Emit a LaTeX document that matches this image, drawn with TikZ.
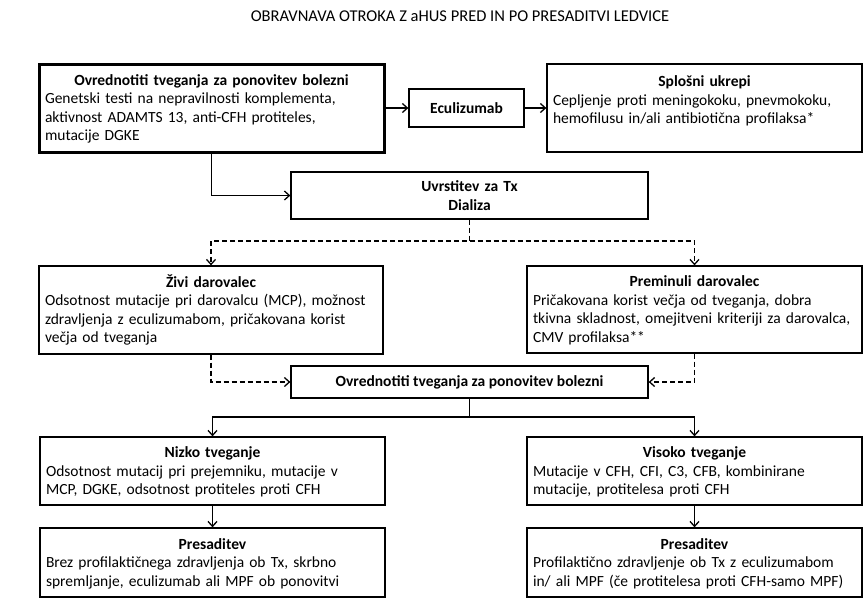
\documentclass[tikz,border=0pt]{standalone}
\usepackage{fontspec}
\setmainfont{Carlito}
\usepackage{tikz}
\usetikzlibrary{arrows.meta}

\begin{document}
\begin{tikzpicture}
[x=1pt,y=-1pt,>={Straight Barb[length=5pt,width=9pt]},
mybox/.style={rectangle,draw=black,line width=1.3pt,inner xsep=6pt,inner ysep=2pt,font=\fontsize{15.5}{18.5}\selectfont},
bigbox/.style={mybox,line width=3pt},
conn/.style={->,line width=1.3pt},
dconn/.style={conn,dash pattern=on 5pt off 3pt},
]
\useasboundingbox (0,0) rectangle (864,614);

\node [font=\fontsize{16.5}{18}\selectfont] (T) at (460,16){OBRAVNAVA OTROKA Z aHUS PRED IN PO PRESADITVI LEDVICE};

\node [bigbox,text width=333pt,minimum height=88pt] (A) at (211.5,108){\centering\vphantom{Ž}\textbf{Ovrednotiti tveganja za ponovitev bolezni}\par\raggedright Genetski testi na nepravilnosti komplementa,\\ aktivnost ADAMTS 13, anti-CFH protiteles,\\ mutacije DGKE};
\node [mybox,minimum width=115pt,minimum height=38pt] (B) at (466.5,108){\textbf{Eculizumab}};
\node [mybox,text width=303pt,minimum height=88pt] (C) at (704.5,108){\centering\vphantom{Ž}\textbf{Splošni ukrepi}\par\raggedright Cepljenje proti meningokoku, pnevmokoku,\\ hemofilusu in/ali antibiotična profilaksa*\\ \mbox{}};
\node [mybox,text width=345pt,minimum height=47pt,align=center] (D) at (469.5,195.5){\textbf{Uvrstitev za Tx}\\ \textbf{Dializa}};
\node [mybox,text width=332pt,minimum height=88pt] (E) at (211,310){\centering\vphantom{Ž}\textbf{Živi darovalec}\par\raggedright Odsotnost mutacije pri darovalcu (MCP), možnost\\ zdravljenja z eculizumabom, pričakovana korist\\ večja od tveganja};
\node [mybox,text width=323pt,minimum height=87pt] (F) at (694.5,309.5){\centering\vphantom{Ž}\textbf{Preminuli darovalec}\par\raggedright Pričakovana korist večja od tveganja, dobra\\ tkivna skladnost, omejitveni kriteriji za darovalca,\\ CMV profilaksa**};
\node [mybox,minimum width=357pt,minimum height=32pt] (G) at (469.5,382){\textbf{Ovrednotiti tveganja za ponovitev bolezni}};
\node [mybox,text width=333pt,minimum height=68pt] (H) at (212.5,471){\centering\vphantom{Ž}\textbf{Nizko tveganje}\par\raggedright Odsotnost mutacij pri prejemniku, mutacije v\\ MCP, DGKE, odsotnost protiteles proti CFH};
\node [mybox,text width=323pt,minimum height=68pt] (I) at (694.5,471){\centering\vphantom{Ž}\textbf{Visoko tveganje}\par\raggedright Mutacije v CFH, CFI, C3, CFB, kombinirane\\ mutacije, protitelesa proti CFH};
\node [mybox,text width=333pt,minimum height=69pt] (J) at (212.5,562.5){\centering\vphantom{Ž}\textbf{Presaditev}\par\raggedright Brez profilaktičnega zdravljenja ob Tx, skrbno\\ spremljanje, eculizumab ali MPF ob ponovitvi};
\node [mybox,text width=323pt,minimum height=69pt] (K) at (694.5,562.5){\centering\vphantom{Ž}\textbf{Presaditev}\par\raggedright Profilaktično zdravljenje ob Tx z eculizumabom\\ in/ ali MPF (če protitelesa proti CFH-samo MPF)};

\coordinate (d1) at (469.5,241);
\coordinate (d2) at (469.5,417);

\draw[conn] (A) -- (B);
\draw[conn] (B) -- (C);
\draw[conn] (A) |- (D);
\draw[dconn] (D) -- (d1) -| (E);
\draw[dconn] (d1) -| (F);
\draw[dconn] (E) |- (G);
\draw[dconn] (F) |- (G);
\draw[conn] (G) -- (d2) -| (H);
\draw[conn] (d2) -| (I);
\draw[conn] (H) -- (J);
\draw[conn] (I) -- (K);
\end{tikzpicture}
\end{document}
